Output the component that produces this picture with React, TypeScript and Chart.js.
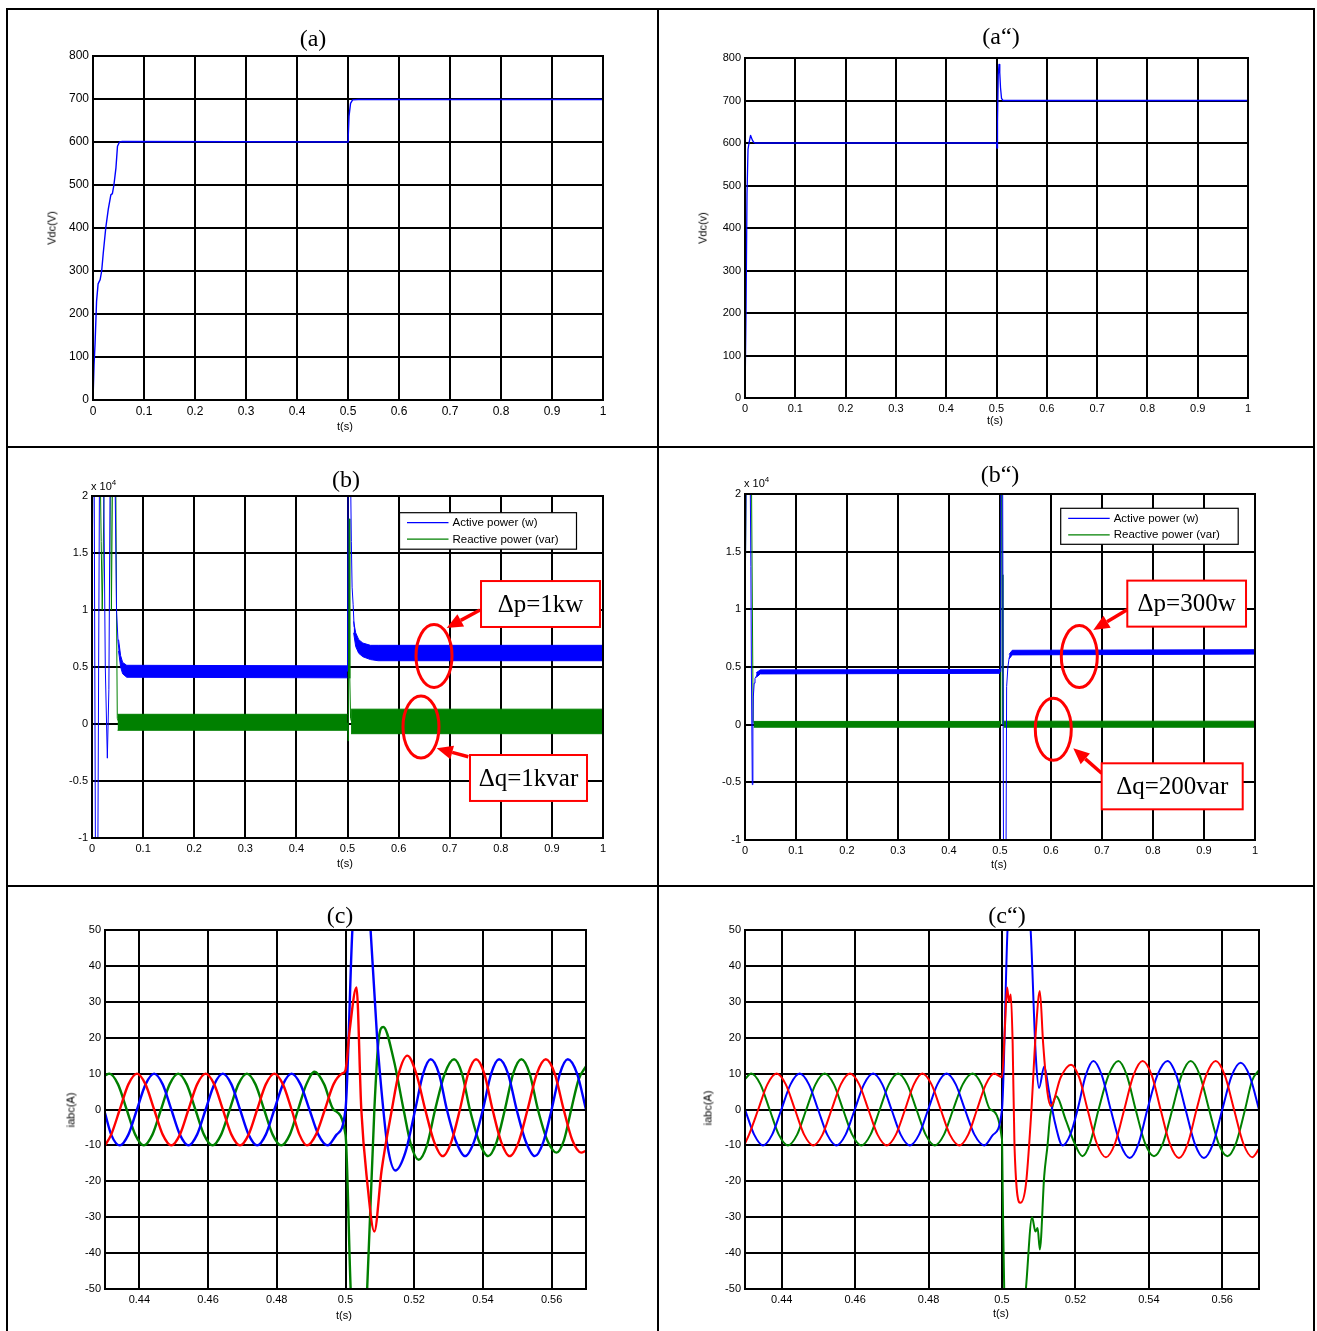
import React, { useEffect, useRef } from "react";
import { Chart, registerables } from "chart.js";

Chart.register(...registerables);
Chart.defaults.font.family = "'Liberation Sans', Arial, sans-serif";
Chart.defaults.color = "#000";

// ---------------- tick values ----------------
const timeTicks = [0, 0.1, 0.2, 0.3, 0.4, 0.5, 0.6, 0.7, 0.8, 0.9, 1];
const vdcTicks = [0, 100, 200, 300, 400, 500, 600, 700, 800];
const powerTicks = [-1, -0.5, 0, 0.5, 1, 1.5, 2];
const zoomTimeTicks = [0.44, 0.46, 0.48, 0.5, 0.52, 0.54, 0.56];
const currentTicks = [-50, -40, -30, -20, -10, 0, 10, 20, 30, 40, 50];

// ---------------- (a) Vdc, conventional ----------------
const vdcTimeA = [0, 0.002, 0.004, 0.007, 0.01, 0.014, 0.017, 0.02, 0.025, 0.03, 0.035, 0.038, 0.041, 0.045, 0.048, 0.052, 0.056, 0.5, 0.5005, 0.502, 0.505, 0.509, 0.52, 1];
const vdcValueA = [0, 80, 130, 230, 270, 280, 300, 340, 400, 444, 477, 480, 500, 540, 590, 600, 601, 600, 615, 660, 690, 698, 699, 699];

// ---------------- (a") Vdc, proposed ----------------
const vdcTimeB = [0, 0.002, 0.004, 0.006, 0.008, 0.011, 0.013, 0.015, 0.017, 0.02, 0.5, 0.501, 0.502, 0.5035, 0.505, 0.5065, 0.508, 0.51, 0.513, 1];
const vdcValueB = [0, 200, 480, 585, 600, 618, 612, 606, 602, 600, 600, 588, 650, 760, 785, 765, 730, 705, 700, 700];

// ---------------- (b) powers (x 10^4), conventional ----------------
const pStartTimeA = [0, 0.002, 0.004, 0.007, 0.011, 0.015, 0.022, 0.026, 0.03, 0.033, 0.036, 0.044, 0.048, 0.051, 0.054];
const pStartValueA = [0.85, 2.6, 2.6, -1.6, -1.6, 2.6, 2.6, 0.5, -0.3, 0.3, 2.6, 2.6, 1.0, 0.72, 0.6];
const pBandTime1A = [0.052, 0.056, 0.06, 0.068, 0.5];
const pBandHigh1A = [0.74, 0.6, 0.54, 0.515, 0.51];
const pBandLow1A = [0.64, 0.5, 0.44, 0.41, 0.405];
const pStepTimeA = [0.5, 0.5015, 0.505, 0.5075, 0.509, 0.511, 0.513];
const pStepValueA = [0.46, 2.6, 2.6, 1.6, 1.2, 1.05, 0.85];
const pBandTime2A = [0.512, 0.516, 0.522, 0.53, 0.545, 0.56, 1];
const pBandHigh2A = [0.9, 0.8, 0.74, 0.71, 0.69, 0.69, 0.69];
const pBandLow2A = [0.8, 0.68, 0.62, 0.59, 0.565, 0.555, 0.555];

const qStartTimeA = [0, 0.002, 0.015, 0.018, 0.02, 0.022, 0.025, 0.036, 0.038, 0.041, 0.046, 0.048, 0.0495, 0.052];
const qStartValueA = [0.85, 2.6, 2.6, 1.6, 1.0, 1.5, 2.6, 2.6, 1.0, 2.6, 2.6, 1.0, 0.05, 0.02];
const qBandTime1A = [0.05, 0.5];
const qBandHigh1A = [0.085, 0.085];
const qBandLow1A = [-0.055, -0.055];
const qStepTimeA = [0.5, 0.5015, 0.503, 0.5045, 0.506, 0.508];
const qStepValueA = [0.01, -0.15, 1.8, 0.4, 0.05, 0.02];
const qBandTime2A = [0.507, 1];
const qBandHigh2A = [0.13, 0.13];
const qBandLow2A = [-0.085, -0.085];

// ---------------- (b") powers (x 10^4), proposed ----------------
const pStartTimeB = [0, 0.003, 0.0095, 0.0115, 0.0125, 0.0143, 0.0155, 0.0163, 0.018, 0.0196, 0.026, 0.035];
const pStartValueB = [0.84, 2.6, 2.6, 1.37, 0.5, -0.52, 0.0, 0.24, 0.36, 0.4, 0.45, 0.46];
const pBandTime1B = [0.022, 0.03, 0.5];
const pBandHigh1B = [0.45, 0.475, 0.478];
const pBandLow1B = [0.41, 0.44, 0.445];
const pStepTimeB = [0.5, 0.5015, 0.505, 0.507, 0.5115, 0.513, 0.5155, 0.518, 0.522, 0.53];
const pStepValueB = [0.46, 2.6, 2.6, -1.5, -1.5, 0.33, 0.5, 0.58, 0.615, 0.63];
const pBandTime2B = [0.518, 0.524, 1];
const pBandHigh2B = [0.61, 0.645, 0.65];
const pBandLow2B = [0.57, 0.605, 0.612];

const qStartTimeB = [0, 0.003, 0.012, 0.016, 0.02];
const qStartValueB = [0.84, 2.6, 2.6, 0.02, 0.0];
const qBandTime1B = [0.017, 0.5];
const qBandHigh1B = [0.028, 0.028];
const qBandLow1B = [-0.022, -0.022];
const qStepTimeB = [0.5, 0.5015, 0.503, 0.5045, 0.5058, 0.508];
const qStepValueB = [0.0, 0.3, 2.6, 1.3, 0.0, 0.0];
const qBandTime2B = [0.507, 1];
const qBandHigh2B = [0.03, 0.03];
const qBandLow2B = [-0.022, -0.022];

// ---------------- (c) phase currents, conventional: [t (s), i (A)] ----------------
const blueCurrentC: [number, number][] = [
  [0.43, -1], [0.4318, -7], [0.4343, -10], [0.4368, -7], [0.4393, 0], [0.4418, 7], [0.4443, 10], [0.4468, 7],
  [0.4493, 0], [0.4518, -7], [0.4543, -10], [0.4568, -7], [0.4593, 0], [0.4618, 7], [0.4643, 10], [0.4668, 7],
  [0.4693, 0], [0.4718, -7], [0.4743, -10], [0.4768, -7], [0.4793, 0], [0.4818, 7], [0.4843, 10], [0.4869, 7],
  [0.4895, 0], [0.4921, -7], [0.4948, -10], [0.4974, -7], [0.5, 0], [0.502, 50], [0.5047, 80], [0.5073, 50],
  [0.5092, 20], [0.511, 0], [0.5122, -10], [0.5145, -17], [0.5174, -12], [0.5203, 0], [0.5226, 10], [0.5248, 14],
  [0.5272, 10], [0.5295, 0], [0.5322, -9], [0.5348, -13], [0.5374, -9], [0.54, 0], [0.5424, 10], [0.5447, 14],
  [0.5473, 10], [0.5498, 0], [0.5525, -9], [0.5551, -13], [0.5576, -9], [0.56, 0], [0.5624, 10], [0.5647, 14],
  [0.5674, 10], [0.57, 0],
];
const redCurrentC: [number, number][] = [
  [0.43, -10], [0.4318, -7], [0.4343, 0], [0.4368, 7], [0.4393, 10], [0.4418, 7], [0.4443, 0], [0.4468, -7],
  [0.4493, -10], [0.4518, -7], [0.4543, 0], [0.4568, 7], [0.4593, 10], [0.4618, 7], [0.4643, 0], [0.4668, -7],
  [0.4693, -10], [0.4718, -7], [0.4743, 0], [0.4768, 7], [0.4793, 10], [0.4818, 7], [0.4843, 0], [0.4866, -7],
  [0.4888, -10], [0.4914, -7], [0.494, 0], [0.4965, 7], [0.499, 10], [0.5, 11], [0.5012, 22], [0.5032, 34],
  [0.5046, 0], [0.5063, -20], [0.5084, -34], [0.5105, -17], [0.5135, 0], [0.5155, 10], [0.518, 15], [0.5206, 10],
  [0.5232, 0], [0.5258, -9], [0.5283, -13], [0.5308, -9], [0.5333, 0], [0.5357, 10], [0.538, 14], [0.5404, 10],
  [0.5428, 0], [0.5453, -9], [0.5478, -13], [0.5504, -9], [0.553, 0], [0.5557, 10], [0.5583, 14], [0.5609, 10],
  [0.5635, 0], [0.566, -8.5], [0.5686, -12], [0.57, -11.5],
];
const greenCurrentC: [number, number][] = [
  [0.43, 9.5], [0.4313, 10], [0.4338, 7], [0.4363, 0], [0.4388, -7], [0.4413, -10], [0.4438, -7], [0.4463, 0],
  [0.4488, 7], [0.4513, 10], [0.4538, 7], [0.4563, 0], [0.4588, -7], [0.4613, -10], [0.4638, -7], [0.4663, 0],
  [0.4688, 7], [0.4713, 10], [0.4738, 7], [0.4763, 0], [0.4788, -7], [0.4813, -10], [0.4838, -7], [0.4862, 0],
  [0.4886, 7], [0.491, 10.5], [0.4938, 7], [0.4965, 0], [0.5, -7], [0.5015, -50], [0.5038, -90], [0.5063, -50],
  [0.5084, 0], [0.5097, 20], [0.511, 23], [0.514, 14], [0.5169, 0], [0.5191, -10], [0.5213, -14], [0.5237, -10],
  [0.5261, 0], [0.5289, 10], [0.5316, 14], [0.5339, 10], [0.5362, 0], [0.5389, -9], [0.5415, -13], [0.544, -9],
  [0.5464, 0], [0.5488, 10], [0.5512, 14], [0.5536, 10], [0.556, 0], [0.5587, -8.5], [0.5614, -12], [0.5636, -8.5],
  [0.5657, 0], [0.5679, 8.5], [0.57, 12],
];

// ---------------- (c") phase currents, proposed: [t (s), i (A)] ----------------
const blueCurrentC2: [number, number][] = [
  [0.43, 0], [0.4325, -7], [0.4349, -10], [0.4374, -7], [0.4399, 0], [0.4424, 7], [0.4449, 10], [0.4474, 7],
  [0.4499, 0], [0.4524, -7], [0.4549, -10], [0.4574, -7], [0.4599, 0], [0.4624, 7], [0.4649, 10], [0.4674, 7],
  [0.4699, 0], [0.4724, -7], [0.4749, -10], [0.4774, -7], [0.4799, 0], [0.4824, 7], [0.4849, 10], [0.4874, 7],
  [0.4899, 0], [0.4925, -7], [0.4952, -10], [0.4976, -7], [0.5, 0], [0.5015, 50], [0.5045, 85], [0.5078, 50],
  [0.5092, 15], [0.5101, 6], [0.5115, 12], [0.5128, 5], [0.5145, -4], [0.5165, -10], [0.5186, -7], [0.5206, 0],
  [0.5228, 9.5], [0.5249, 13.5], [0.5272, 9.5], [0.5296, 0], [0.5322, -9.5], [0.5348, -13.5], [0.5372, -9.5], [0.5396, 0],
  [0.5423, 9.5], [0.5451, 13.5], [0.5475, 9.5], [0.55, 0], [0.5525, -9.5], [0.555, -13.5], [0.5575, -9.5], [0.56, 0],
  [0.5625, 9.2], [0.565, 13], [0.5675, 9.2], [0.57, 0],
];
const redCurrentC2: [number, number][] = [
  [0.43, -9.5], [0.4311, -7], [0.4336, 0], [0.4361, 7], [0.4386, 10], [0.4411, 7], [0.4436, 0], [0.4461, -7],
  [0.4486, -10], [0.4511, -7], [0.4536, 0], [0.4561, 7], [0.4586, 10], [0.4611, 7], [0.4636, 0], [0.4661, -7],
  [0.4686, -10], [0.4711, -7], [0.4736, 0], [0.476, 7], [0.4783, 10], [0.4808, 7], [0.4833, 0], [0.4858, -7],
  [0.4884, -10], [0.4908, -7], [0.4932, 0], [0.4956, 7], [0.4979, 10], [0.5, 9], [0.5008, 23], [0.5014, 34],
  [0.5019, 30], [0.5024, 32], [0.5029, 18.5], [0.5034, -10], [0.505, -26], [0.5065, -21], [0.5079, -2], [0.5093, 23],
  [0.5103, 33], [0.5112, 18.5], [0.5124, 4.6], [0.5133, 1], [0.516, 9], [0.5188, 12.5], [0.521, 9], [0.5233, 0],
  [0.5258, -9.4], [0.5283, -13.3], [0.5308, -9.4], [0.5333, 0], [0.5358, 9.5], [0.5383, 13.5], [0.5408, 9.5], [0.5432, 0],
  [0.5457, -9.5], [0.5482, -13.5], [0.5506, -9.5], [0.553, 0], [0.5556, 9.5], [0.5582, 13.5], [0.5607, 9.5], [0.5632, 0],
  [0.5657, -9.4], [0.5682, -13.3], [0.57, -11],
];
const greenCurrentC2: [number, number][] = [
  [0.43, 8.5], [0.4317, 10], [0.4342, 7], [0.4367, 0], [0.4392, -7], [0.4417, -10], [0.4442, -7], [0.4467, 0],
  [0.4492, 7], [0.4517, 10], [0.4542, 7], [0.4567, 0], [0.4592, -7], [0.4617, -10], [0.4642, -7], [0.4667, 0],
  [0.4692, 7], [0.4717, 10], [0.4742, 7], [0.4767, 0], [0.4792, -7], [0.4817, -10], [0.4842, -7], [0.4867, 0],
  [0.4893, 7], [0.492, 10], [0.4944, 7], [0.4968, 0], [0.5, -8.3], [0.5002, -23], [0.5006, -50], [0.5035, -80],
  [0.5065, -50], [0.5082, -30], [0.5091, -34], [0.5097, -33], [0.5103, -39], [0.5115, -18.5], [0.5124, -10], [0.5131, -2],
  [0.5138, 1], [0.5147, 3.7], [0.5174, -3], [0.5196, -9], [0.5219, -13], [0.5241, -9], [0.5263, 0], [0.529, 9.5],
  [0.5317, 13.5], [0.534, 9.5], [0.5364, 0], [0.5389, -9.2], [0.5414, -13], [0.5439, -9.2], [0.5464, 0], [0.5489, 9.5],
  [0.5514, 13.5], [0.5539, 9.5], [0.5564, 0], [0.5589, -9.2], [0.5614, -13], [0.5638, -9.2], [0.5662, 0], [0.5681, 8],
  [0.57, 11],
];

// ---------------- helpers ----------------
const BLUE = "#0000ff";
const GREEN = "#008000";
const RED = "#ff0000";

type XY = { x: number; y: number };
const zip = (xs: number[], ys: number[]): XY[] => xs.map((x, i) => ({ x, y: ys[i] }));
const fromPairs = (p: [number, number][]): XY[] => p.map(([x, y]) => ({ x, y }));

const line = (xs: number[], ys: number[], color: string, width = 1) => ({
  data: zip(xs, ys),
  borderColor: color,
  backgroundColor: color,
  borderWidth: width,
  pointRadius: 0,
  fill: false,
  tension: 0,
});
const smooth = (pairs: [number, number][], color: string, width: number) => ({
  data: fromPairs(pairs),
  borderColor: color,
  backgroundColor: color,
  borderWidth: width,
  pointRadius: 0,
  fill: false,
  cubicInterpolationMode: "monotone",
});
const band = (xs: number[], hi: number[], lo: number[], color: string) => [
  { data: zip(xs, hi), borderColor: color, borderWidth: 1, pointRadius: 0, fill: false, tension: 0 },
  { data: zip(xs, lo), borderColor: color, backgroundColor: color, borderWidth: 1, pointRadius: 0, fill: "-1", tension: 0 },
];

type Deco = {
  legend?: { dx: number; dy: number; w: number; h: number };
  boxes?: { x0: number; x1: number; y0: number; y1: number; text: string }[];
  ellipses?: { cx: number; cy: number; rx: number; ry: number }[];
  arrows?: { x0: number; y0: number; x1: number; y1: number }[];
};

const legendItems = [
  { label: "Active power (w)", color: BLUE },
  { label: "Reactive power (var)", color: GREEN },
];

const makeDeco = (deco?: Deco) => ({
  id: "deco",
  afterDraw(chart: any) {
    const { ctx, chartArea: a, scales } = chart;
    const X = (v: number) => scales.x.getPixelForValue(v);
    const Y = (v: number) => scales.y.getPixelForValue(v);
    ctx.save();
    ctx.strokeStyle = "#000";
    ctx.lineWidth = 2;
    ctx.strokeRect(a.left, a.top, a.right - a.left, a.bottom - a.top);
    if (deco && deco.legend) {
      const L = deco.legend;
      const x = a.left + L.dx;
      const y = a.top + L.dy;
      ctx.fillStyle = "#fff";
      ctx.fillRect(x, y, L.w, L.h);
      ctx.lineWidth = 1.2;
      ctx.strokeStyle = "#000";
      ctx.strokeRect(x, y, L.w, L.h);
      ctx.font = "11.5px 'Liberation Sans', Arial, sans-serif";
      ctx.textBaseline = "middle";
      ctx.textAlign = "left";
      legendItems.forEach((it, i) => {
        const ry = y + 10 + i * 16.5;
        ctx.strokeStyle = it.color;
        ctx.lineWidth = 1.2;
        ctx.beginPath();
        ctx.moveTo(x + 7.5, ry);
        ctx.lineTo(x + 49, ry);
        ctx.stroke();
        ctx.fillStyle = "#000";
        ctx.fillText(it.label, x + 53, ry + 0.5);
      });
    }
    if (deco && deco.ellipses) {
      ctx.strokeStyle = RED;
      ctx.lineWidth = 3;
      deco.ellipses.forEach((e) => {
        ctx.beginPath();
        ctx.ellipse(X(e.cx), Y(e.cy), e.rx, e.ry, 0, 0, Math.PI * 2);
        ctx.stroke();
      });
    }
    if (deco && deco.arrows) {
      deco.arrows.forEach((ar) => {
        const x0 = X(ar.x0), y0 = Y(ar.y0), x1 = X(ar.x1), y1 = Y(ar.y1);
        const ang = Math.atan2(y1 - y0, x1 - x0);
        const hl = 16, hw = 7;
        const bx = x1 - hl * Math.cos(ang), by = y1 - hl * Math.sin(ang);
        ctx.strokeStyle = RED;
        ctx.fillStyle = RED;
        ctx.lineWidth = 3.5;
        ctx.beginPath();
        ctx.moveTo(x0, y0);
        ctx.lineTo(bx, by);
        ctx.stroke();
        ctx.beginPath();
        ctx.moveTo(x1, y1);
        ctx.lineTo(bx + hw * Math.sin(ang), by - hw * Math.cos(ang));
        ctx.lineTo(bx - hw * Math.sin(ang), by + hw * Math.cos(ang));
        ctx.closePath();
        ctx.fill();
      });
    }
    if (deco && deco.boxes) {
      deco.boxes.forEach((b) => {
        const x0 = X(b.x0), x1 = X(b.x1), y0 = Y(b.y0), y1 = Y(b.y1);
        ctx.fillStyle = "#fff";
        ctx.fillRect(x0, y0, x1 - x0, y1 - y0);
        ctx.strokeStyle = RED;
        ctx.lineWidth = 2;
        ctx.strokeRect(x0, y0, x1 - x0, y1 - y0);
        ctx.fillStyle = "#000";
        ctx.font = "25px 'Liberation Serif', 'Times New Roman', serif";
        ctx.textAlign = "center";
        ctx.textBaseline = "middle";
        ctx.fillText(b.text, (x0 + x1) / 2, (y0 + y1) / 2 + 1);
      });
    }
    ctx.restore();
  },
});

type PlotSpec = {
  l: number; t: number; r: number; b: number;
  xMin: number; xMax: number; yMin: number; yMax: number;
  xTicks: number[]; yTicks: number[];
  tickFont: number;
  datasets: any[];
  deco?: Deco;
};

const PL = 60, PT = 20, PR = 20, PB = 25;

function Plot({ spec }: { spec: PlotSpec }) {
  const ref = useRef<HTMLCanvasElement | null>(null);
  const w = spec.r - spec.l + PL + PR;
  const h = spec.b - spec.t + PT + PB;
  useEffect(() => {
    if (!ref.current) return;
    const fmt = (v: number) => String(Math.round(v * 1000) / 1000);
    const axis = (ticks: number[]) => ({
      type: "linear",
      afterBuildTicks: (s: any) => {
        s.ticks = ticks.map((v) => ({ value: v }));
      },
      grid: { color: "#000", lineWidth: 2, drawTicks: false },
      border: { display: false },
      ticks: {
        color: "#000",
        padding: 4,
        autoSkip: false,
        maxRotation: 0,
        font: { size: spec.tickFont },
        callback: (v: any) => fmt(Number(v)),
      },
    });
    const chart = new Chart(ref.current, {
      type: "line",
      data: { datasets: spec.datasets },
      options: {
        animation: false,
        responsive: false,
        events: [],
        layout: { padding: { left: 0, top: PT, right: PR, bottom: 0 } },
        plugins: { legend: { display: false }, tooltip: { enabled: false } },
        elements: { point: { radius: 0 }, line: { borderJoinStyle: "round" } },
        scales: {
          x: { ...axis(spec.xTicks), min: spec.xMin, max: spec.xMax, afterFit: (s: any) => { s.height = PB; } },
          y: { ...axis(spec.yTicks), min: spec.yMin, max: spec.yMax, afterFit: (s: any) => { s.width = PL; } },
        },
      },
      plugins: [makeDeco(spec.deco)],
    } as any);
    return () => chart.destroy();
  }, []);
  return (
    <canvas
      ref={ref}
      width={w}
      height={h}
      style={{ position: "absolute", left: spec.l - PL, top: spec.t - PT, width: w, height: h }}
    />
  );
}

// ---------------- plot specs ----------------
const specs: PlotSpec[] = [
  {
    l: 93, t: 56, r: 603, b: 400, xMin: 0, xMax: 1, yMin: 0, yMax: 800,
    xTicks: timeTicks, yTicks: vdcTicks, tickFont: 12,
    datasets: [line(vdcTimeA, vdcValueA, BLUE, 1.4)],
  },
  {
    l: 745, t: 58, r: 1248, b: 398, xMin: 0, xMax: 1, yMin: 0, yMax: 800,
    xTicks: timeTicks, yTicks: vdcTicks, tickFont: 11,
    datasets: [line(vdcTimeB, vdcValueB, BLUE, 1.3)],
  },
  {
    l: 92, t: 496, r: 603, b: 838, xMin: 0, xMax: 1, yMin: -1, yMax: 2,
    xTicks: timeTicks, yTicks: powerTicks, tickFont: 11,
    datasets: [
      line(pStartTimeA, pStartValueA, BLUE, 1),
      ...band(pBandTime1A, pBandHigh1A, pBandLow1A, BLUE),
      line(pStepTimeA, pStepValueA, BLUE, 1),
      ...band(pBandTime2A, pBandHigh2A, pBandLow2A, BLUE),
      line(qStartTimeA, qStartValueA, GREEN, 1),
      ...band(qBandTime1A, qBandHigh1A, qBandLow1A, GREEN),
      line(qStepTimeA, qStepValueA, GREEN, 1),
      ...band(qBandTime2A, qBandHigh2A, qBandLow2A, GREEN),
    ],
    deco: {
      legend: { dx: 307.5, dy: 16.7, w: 177, h: 36.5 },
      ellipses: [
        { cx: 0.6693, cy: 0.5965, rx: 18, ry: 31.5 },
        { cx: 0.6438, cy: -0.026, rx: 18, ry: 31 },
      ],
      arrows: [
        { x0: 0.7593, y0: 1.0, x1: 0.6941, y1: 0.842 },
        { x0: 0.7364, y0: -0.287, x1: 0.6746, y1: -0.213 },
      ],
      boxes: [
        { x0: 0.7613, x1: 0.9941, y0: 1.254, y1: 0.851, text: "Δp=1kw" },
        { x0: 0.7397, x1: 0.9687, y0: -0.272, y1: -0.675, text: "Δq=1kvar" },
      ],
    },
  },
  {
    l: 745, t: 494, r: 1255, b: 840, xMin: 0, xMax: 1, yMin: -1, yMax: 2,
    xTicks: timeTicks, yTicks: powerTicks, tickFont: 11,
    datasets: [
      line(pStartTimeB, pStartValueB, BLUE, 1),
      ...band(pBandTime1B, pBandHigh1B, pBandLow1B, BLUE),
      line(pStepTimeB, pStepValueB, BLUE, 1),
      ...band(pBandTime2B, pBandHigh2B, pBandLow2B, BLUE),
      line(qStartTimeB, qStartValueB, GREEN, 1),
      ...band(qBandTime1B, qBandHigh1B, qBandLow1B, GREEN),
      line(qStepTimeB, qStepValueB, GREEN, 1),
      ...band(qBandTime2B, qBandHigh2B, qBandLow2B, GREEN),
    ],
    deco: {
      legend: { dx: 315.7, dy: 14.3, w: 177.5, h: 36 },
      ellipses: [
        { cx: 0.6555, cy: 0.59, rx: 18, ry: 31 },
        { cx: 0.6045, cy: -0.04, rx: 18, ry: 31 },
      ],
      arrows: [
        { x0: 0.7484, y0: 0.995, x1: 0.683, y1: 0.821 },
        { x0: 0.6994, y0: -0.4215, x1: 0.6437, y1: -0.205 },
      ],
      boxes: [
        { x0: 0.7496, x1: 0.9824, y0: 1.249, y1: 0.85, text: "Δp=300w" },
        { x0: 0.6994, x1: 0.9759, y0: -0.335, y1: -0.734, text: "Δq=200var" },
      ],
    },
  },
  {
    l: 104.5, t: 930, r: 585.5, b: 1289, xMin: 0.43, xMax: 0.57, yMin: -50, yMax: 50,
    xTicks: zoomTimeTicks, yTicks: currentTicks, tickFont: 11,
    datasets: [
      smooth(redCurrentC, RED, 2.4),
      smooth(blueCurrentC, BLUE, 2.4),
      smooth(greenCurrentC, GREEN, 2.4),
    ],
  },
  {
    l: 745, t: 930, r: 1259, b: 1289, xMin: 0.43, xMax: 0.57, yMin: -50, yMax: 50,
    xTicks: zoomTimeTicks, yTicks: currentTicks, tickFont: 11,
    datasets: [
      smooth(redCurrentC2, RED, 2),
      smooth(blueCurrentC2, BLUE, 2),
      smooth(greenCurrentC2, GREEN, 2),
    ],
  },
];

const titles = [
  { text: "(a)", x: 313, y: 38 },
  { text: "(a“)", x: 1001, y: 36 },
  { text: "(b)", x: 346, y: 479 },
  { text: "(b“)", x: 1000, y: 474 },
  { text: "(c)", x: 340, y: 915 },
  { text: "(c“)", x: 1007, y: 915 },
];

const axisLabels = [
  { text: "Vdc(V)", x: 52, y: 228, rot: true },
  { text: "Vdc(v)", x: 703, y: 228, rot: true },
  { text: "iabc(A)", x: 71, y: 1110, rot: true },
  { text: "iabc(A)", x: 708, y: 1108, rot: true },
  { text: "t(s)", x: 345, y: 426, rot: false },
  { text: "t(s)", x: 995, y: 420, rot: false },
  { text: "t(s)", x: 345, y: 863, rot: false },
  { text: "t(s)", x: 999, y: 864, rot: false },
  { text: "t(s)", x: 344, y: 1315, rot: false },
  { text: "t(s)", x: 1001, y: 1313, rot: false },
];

const exponentLabels = [
  { x: 91, y: 481 },
  { x: 744, y: 478 },
];

const rules = [
  { l: 6, t: 8, w: 1309, h: 2 },
  { l: 6, t: 8, w: 2, h: 1330 },
  { l: 1313, t: 8, w: 2, h: 1330 },
  { l: 657, t: 8, w: 2, h: 1330 },
  { l: 6, t: 446, w: 1309, h: 2 },
  { l: 6, t: 885, w: 1309, h: 2 },
];

export default function App() {
  return (
    <div
      style={{
        position: "fixed", left: 0, top: 0, width: 1317, height: 1331,
        overflow: "hidden", background: "#fff",
      }}
    >
      {rules.map((r, i) => (
        <div key={"r" + i} style={{ position: "absolute", left: r.l, top: r.t, width: r.w, height: r.h, background: "#000" }} />
      ))}
      {specs.map((s, i) => (
        <Plot key={"p" + i} spec={s} />
      ))}
      {titles.map((t, i) => (
        <div
          key={"t" + i}
          style={{
            position: "absolute", left: t.x, top: t.y, transform: "translate(-50%,-50%)",
            font: "24px 'Liberation Serif', 'Times New Roman', serif", lineHeight: 1, whiteSpace: "nowrap",
          }}
        >
          {t.text}
        </div>
      ))}
      {axisLabels.map((t, i) => (
        <div
          key={"a" + i}
          style={{
            position: "absolute", left: t.x, top: t.y,
            transform: t.rot ? "translate(-50%,-50%) rotate(-90deg)" : "translate(-50%,-50%)",
            font: "11px 'Liberation Sans', Arial, sans-serif", lineHeight: 1, whiteSpace: "nowrap",
          }}
        >
          {t.text}
        </div>
      ))}
      {exponentLabels.map((e, i) => (
        <div
          key={"e" + i}
          style={{
            position: "absolute", left: e.x, top: e.y,
            font: "11px 'Liberation Sans', Arial, sans-serif", lineHeight: 1, whiteSpace: "nowrap",
          }}
        >
          x 10<span style={{ fontSize: 8, position: "relative", top: -5 }}>4</span>
        </div>
      ))}
    </div>
  );
}
